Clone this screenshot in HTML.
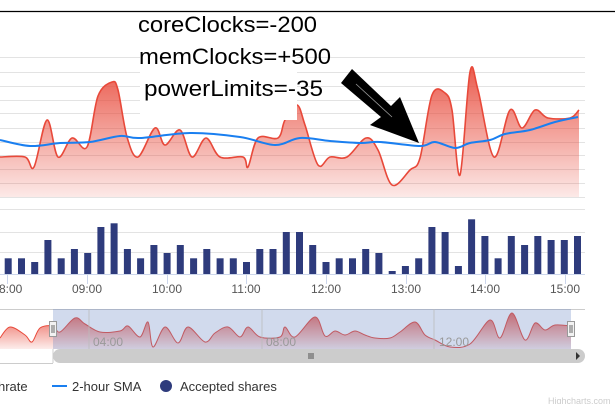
<!DOCTYPE html>
<html><head><meta charset="utf-8"><style>
html,body{margin:0;padding:0;background:#fff;width:615px;height:404px;overflow:hidden}
svg{display:block;font-family:"Liberation Sans","DejaVu Sans",sans-serif}
</style></head><body>
<svg id="s" width="615" height="404" viewBox="0 0 615 404" xmlns="http://www.w3.org/2000/svg">
<defs>
<linearGradient id="rg" x1="0" y1="0" x2="0" y2="1"><stop offset="0" stop-color="#e8493a" stop-opacity="0.9"/><stop offset="1" stop-color="#e8493a" stop-opacity="0.12"/></linearGradient>
<linearGradient id="ng" x1="0" y1="0" x2="0" y2="1"><stop offset="0" stop-color="#e8493a" stop-opacity="0.85"/><stop offset="1" stop-color="#e8493a" stop-opacity="0.1"/></linearGradient>
</defs>
<line x1="0" y1="11.5" x2="615" y2="11.5" stroke="#000" stroke-width="1.2"/>
<g id="grid" stroke="#e3e3e3" stroke-width="1"></g>
<path id="area" fill="url(#rg)"/>
<path id="line" fill="none" stroke="#e8493a" stroke-width="1.6"/>
<path id="sma" fill="none" stroke="#1a7ff0" stroke-width="2"/>
<rect x="140" y="55" width="157" height="65" fill="#fff"/>
<text x="138" y="32" font-size="22" fill="#000" textLength="179" lengthAdjust="spacingAndGlyphs">coreClocks=-200</text>
<text x="139" y="64" font-size="22" fill="#000" textLength="192" lengthAdjust="spacingAndGlyphs">memClocks=+500</text>
<text x="144" y="96" font-size="22" fill="#000" textLength="179" lengthAdjust="spacingAndGlyphs">powerLimits=-35</text>
<polygon points="341,83 352,69 391,106 400,97 419,143 370,125 381,117" fill="#000"/>
<line x1="356" y1="84" x2="392" y2="117" stroke="#999" stroke-width="0.8"/>
<g id="bars" fill="#2e3b7c"></g>
<line x1="0" y1="274.5" x2="585" y2="274.5" stroke="#ccd6eb"/>
<g id="ticks" stroke="#ccd6eb"></g>
<g font-size="12" fill="#555" id="xl"></g>
<line x1="0" y1="309.5" x2="585" y2="309.5" stroke="#ccc"/>
<path id="narea" fill="url(#ng)"/>
<path id="nline" fill="none" stroke="#e8493a" stroke-width="1"/>
<rect x="53" y="309" width="518" height="40" fill="#6685c2" fill-opacity="0.3"/>
<g stroke="#bbb" stroke-width="0.8"><line x1="89" y1="309" x2="89" y2="349"/><line x1="262" y1="309" x2="262" y2="349"/><line x1="434" y1="309" x2="434" y2="349"/></g>
<g font-size="12" fill="#999"><text x="93" y="346">04:00</text><text x="266" y="346">08:00</text><text x="439" y="346">12:00</text></g>
<rect x="0" y="349" width="53" height="14" fill="#fff"/>
<line x1="0" y1="363.5" x2="53" y2="363.5" stroke="#ccc"/>
<line x1="53" y1="349" x2="53" y2="363" stroke="#ccc"/>
<rect x="53" y="349" width="532" height="14" rx="7" fill="#cccccc"/>
<path d="M576 352 L580 356 L576 360Z" fill="#333"/>
<g stroke="#333" stroke-width="0.8"><line x1="309" y1="353" x2="309" y2="359"/><line x1="311" y1="353" x2="311" y2="359"/><line x1="313" y1="353" x2="313" y2="359"/></g>
<g fill="#f2f2f2" stroke="#999"><rect x="49.5" y="321.5" width="7" height="15"/><rect x="567.5" y="321.5" width="7" height="15"/></g>
<g stroke="#444" stroke-width="0.8"><line x1="52" y1="325" x2="52" y2="333"/><line x1="54" y1="325" x2="54" y2="333"/><line x1="570" y1="325" x2="570" y2="333"/><line x1="572" y1="325" x2="572" y2="333"/></g>
<g font-size="13" fill="#333">
<text x="-2" y="391">hrate</text>
<line x1="52" y1="386" x2="67" y2="386" stroke="#1a7ff0" stroke-width="2"/>
<text x="72" y="391">2-hour SMA</text>
<circle cx="166" cy="386" r="6" fill="#2e3b7c"/>
<text x="180" y="391">Accepted shares</text>
</g>
<text x="548" y="404" font-size="9" fill="#ccc">Highcharts.com</text>
</svg>
<script>
function cr(p){let d="M"+p[0][0]+","+p[0][1];for(let i=0;i<p.length-1;i++){const a=p[i-1]||p[i],b=p[i],c=p[i+1],e=p[i+2]||c;d+=" C"+(b[0]+(c[0]-a[0])/6).toFixed(1)+","+(b[1]+(c[1]-a[1])/6).toFixed(1)+" "+(c[0]-(e[0]-b[0])/6).toFixed(1)+","+(c[1]-(e[1]-b[1])/6).toFixed(1)+" "+c[0]+","+c[1];}return d;}
const NS="http://www.w3.org/2000/svg";
function el(t,a,p){const e=document.createElementNS(NS,t);for(const k in a)e.setAttribute(k,a[k]);document.getElementById(p).appendChild(e);return e;}
[57,72,86,100,113,128,142,155,169,183,197,209,232,252].forEach(y=>el("line",{x1:0,x2:585,y1:y+.5,y2:y+.5},"grid"));
const red=[[0,157],[25,157],[34,167],[47,120],[58,157],[72,138],[87,147],[98,96],[112,82],[118,90],[127,137],[138,157],[155,128],[165,145],[180,130],[192,157],[206,138],[220,157],[243,157],[248,167],[258,138],[278,138],[285,120],[297,105],[305,125],[318,165],[330,157],[347,157],[366,138],[378,150],[392,185],[410,170],[420,158],[432,95],[445,93],[452,110],[460,175],[470,72],[478,90],[494,157],[510,110],[522,128],[535,110],[548,118],[570,118],[579,110]];
const d=cr(red);
document.getElementById("line").setAttribute("d",d);
document.getElementById("area").setAttribute("d",d+" L579,197 L0,197Z");
const sma=[[0,140],[30,146],[60,143],[90,142],[120,136],[140,138],[190,133],[240,137],[275,145],[300,138],[330,141],[360,143],[380,142],[420,146],[435,142],[455,148],[470,143],[490,140],[505,134],[530,130],[555,122],[578,117]];
document.getElementById("sma").setAttribute("d",cr(sma));
const bt=[175,175,186,120,175,147,159,81,70,147,175,135,159,135,175,147,175,175,186,147,147,96,96,135,186,175,175,147,159,213,198,175,81,96,198,58,108,175,108,135,108,120,120,108];
bt.forEach((t,i)=>{const x=12/2.54+i*13.24;const y=200+t/3;el("rect",{x:x.toFixed(1),y:y.toFixed(1),width:7,height:(274-y).toFixed(1)},"bars");});
[["8:00",7,-1],["09:00",87],["10:00",167],["11:00",246],["12:00",326],["13:00",406],["14:00",485],["15:00",565]].forEach(a=>{el("line",{x1:a[1]+.5,x2:a[1]+.5,y1:274,y2:284},"ticks");const t=el("text",{x:a[2]!==undefined?-1:a[1],y:293,"text-anchor":a[2]!==undefined?"start":"middle"},"xl");t.textContent=a[0];});
const nv=[[0,338],[10,327],[25,335],[32,342],[40,328],[53,326],[60,332],[75,318],[85,324],[100,332],[120,331],[128,326],[140,337],[148,322],[153,347],[165,327],[178,343],[188,327],[205,342],[215,333],[228,327],[240,337],[248,327],[260,337],[280,337],[285,327],[295,337],[315,317],[325,336],[335,331],[345,335],[355,331],[365,335],[375,338],[390,338],[400,332],[415,322],[425,335],[435,340],[450,347],[470,344],[490,320],[500,338],[512,313],[525,340],[535,323],[545,330],[555,325],[571,326]];
const nd=cr(nv);
document.getElementById("nline").setAttribute("d",nd);
document.getElementById("narea").setAttribute("d",nd+" L571,349 L0,349Z");
</script>
</body></html>
